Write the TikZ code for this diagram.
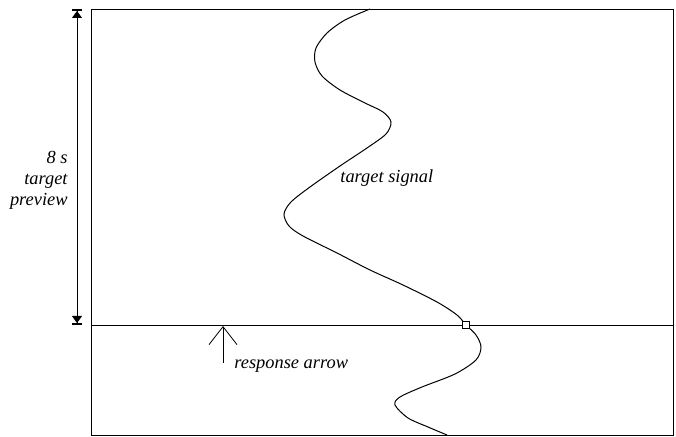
\documentclass[tikz,border=0pt]{standalone}
\usepackage{fontspec}
\setmainfont{Liberation Serif}
\usetikzlibrary{arrows.meta}
\begin{document}
\begin{tikzpicture}[x=0.5pt,y=-0.5pt,
  etiquette/.style={font=\fontsize{9.2}{10.5}\selectfont\itshape, inner sep=0pt}]
\useasboundingbox (0,0) rectangle (676,437);

% Cadre
\draw (91,9) rectangle (673,435);

% Ligne de réponse
\coordinate (gauche) at (91,325);
\coordinate (droite) at (673,325);
\draw (gauche) -- (droite);

% Signal cible
\draw[line width=0.5pt] plot[smooth, tension=0.5] coordinates {
  (370,9) (345,20) (327,33) (316,48) (315,62) (322,76) (340,90) (365,103)
  (383,112) (391,122) (386,134) (367,148) (340,166) (310,187) (291,202)
  (284,214) (289,226) (303,236) (337,253) (370,270) (403,285) (437,302)
  (457,315) (466,325) (476,335) (481,347) (476,360) (455,374) (422,387)
  (400,397) (395,405) (408,418) (428,427) (447,435)};

% Curseur
\node[draw, fill=white, minimum size=3.5pt, inner sep=0pt] (curseur) at (466,325) {};

% Aperçu de 8 s
\coordinate (haut) at (77,9);
\coordinate (bas) at (77,325);
\draw[{Bar[width=5pt,line width=1pt]Triangle[length=3.5pt,width=5pt,sep=0pt]}-{Triangle[length=3.5pt,width=5pt,sep=0pt]Bar[width=5pt,line width=1pt]}] (haut) -- (bas);
\node[etiquette, align=right, anchor=east] (apercu) at (68,180) {8 s\\target\\preview};

% Flèche de réponse
\coordinate (queue) at (223,363);
\coordinate (pointe) at (223,326);
\draw[-{Straight Barb[length=9pt,width=14pt]}] (queue) -- (pointe);
\node[etiquette, anchor=west] (reponse) at (234,366) {response arrow};

% Étiquette du signal
\node[etiquette, anchor=west] (signal) at (340,178) {target signal};

\end{tikzpicture}
\end{document}
